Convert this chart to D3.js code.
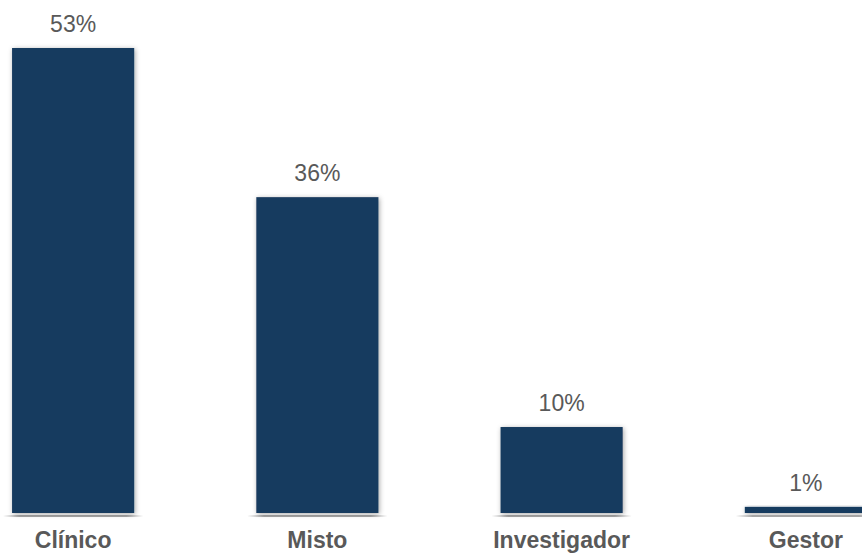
<!DOCTYPE html>
<html>
<head>
<meta charset="utf-8">
<script src="https://cdn.jsdelivr.net/npm/d3@7"></script>
<style>
  body { margin: 0; background: #fff; }
  svg { display: block; }
</style>
</head>
<body>
<div id="chart"></div>
<script>
// values
const categories = ["Clínico", "Misto", "Investigador", "Gestor"]
const values = [53.0, 36.0, 9.8, 0.7]

const W = 862, H = 555
const barColor = "#183a5e"
const textColor = "#595959"

const svg = d3.select("#chart").append("svg")
    .attr("width", W)
    .attr("height", H)

const defs = svg.append("defs")
const shadow = defs.append("filter")
    .attr("id", "shadow")
    .attr("x", "-20%").attr("y", "-20%")
    .attr("width", "140%").attr("height", "140%")
shadow.append("feDropShadow")
    .attr("dx", 1).attr("dy", 1)
    .attr("stdDeviation", 2.5)
    .attr("flood-color", "#000")
    .attr("flood-opacity", 0.35)

const grad = defs.append("linearGradient").attr("id", "baseGrad")
grad.append("stop").attr("offset", "0%").attr("stop-color", "#a6a6a6").attr("stop-opacity", 0)
grad.append("stop").attr("offset", "12%").attr("stop-color", "#a6a6a6").attr("stop-opacity", 1)
grad.append("stop").attr("offset", "88%").attr("stop-color", "#a6a6a6").attr("stop-opacity", 1)
grad.append("stop").attr("offset", "100%").attr("stop-color", "#a6a6a6").attr("stop-opacity", 0)

const x = d3.scaleBand()
    .domain(categories)
    .range([-49, 928])
    .paddingInner(0.5)
    .paddingOuter(0.25)

const y = d3.scaleLinear()
    .domain([0, 53])
    .range([513, 48])

const data = categories.map((c, i) => ({ cat: c, v: values[i] }))

// baseline pieces under each bar
svg.selectAll(".base")
    .data(data)
    .enter()
    .append("rect")
    .attr("class", "base")
    .attr("x", d => x(d.cat) - 9)
    .attr("y", 515)
    .attr("width", x.bandwidth() + 18)
    .attr("height", 2)
    .attr("fill", "url(#baseGrad)")

svg.selectAll(".bar")
    .data(data)
    .enter()
    .append("rect")
    .attr("class", "bar")
    .attr("x", d => x(d.cat))
    .attr("y", d => y(d.v))
    .attr("width", x.bandwidth())
    .attr("height", d => y(0) - y(d.v))
    .attr("fill", barColor)
    .attr("filter", "url(#shadow)")

const fmt = d => d3.format(".0f")(d) + "%"

svg.selectAll(".val")
    .data(data)
    .enter()
    .append("text")
    .attr("class", "val")
    .attr("x", d => x(d.cat) + x.bandwidth() / 2)
    .attr("y", d => y(d.v) - 16)
    .attr("text-anchor", "middle")
    .attr("font-family", "Liberation Sans, Arial, sans-serif")
    .attr("font-size", 23)
    .attr("fill", textColor)
    .text(d => fmt(d.v))

svg.selectAll(".cat")
    .data(data)
    .enter()
    .append("text")
    .attr("class", "cat")
    .attr("x", d => x(d.cat) + x.bandwidth() / 2)
    .attr("y", 548)
    .attr("text-anchor", "middle")
    .attr("font-family", "Liberation Sans, Arial, sans-serif")
    .attr("font-size", 23)
    .attr("font-weight", "bold")
    .attr("fill", textColor)
    .text(d => d.cat)
</script>
</body>
</html>
